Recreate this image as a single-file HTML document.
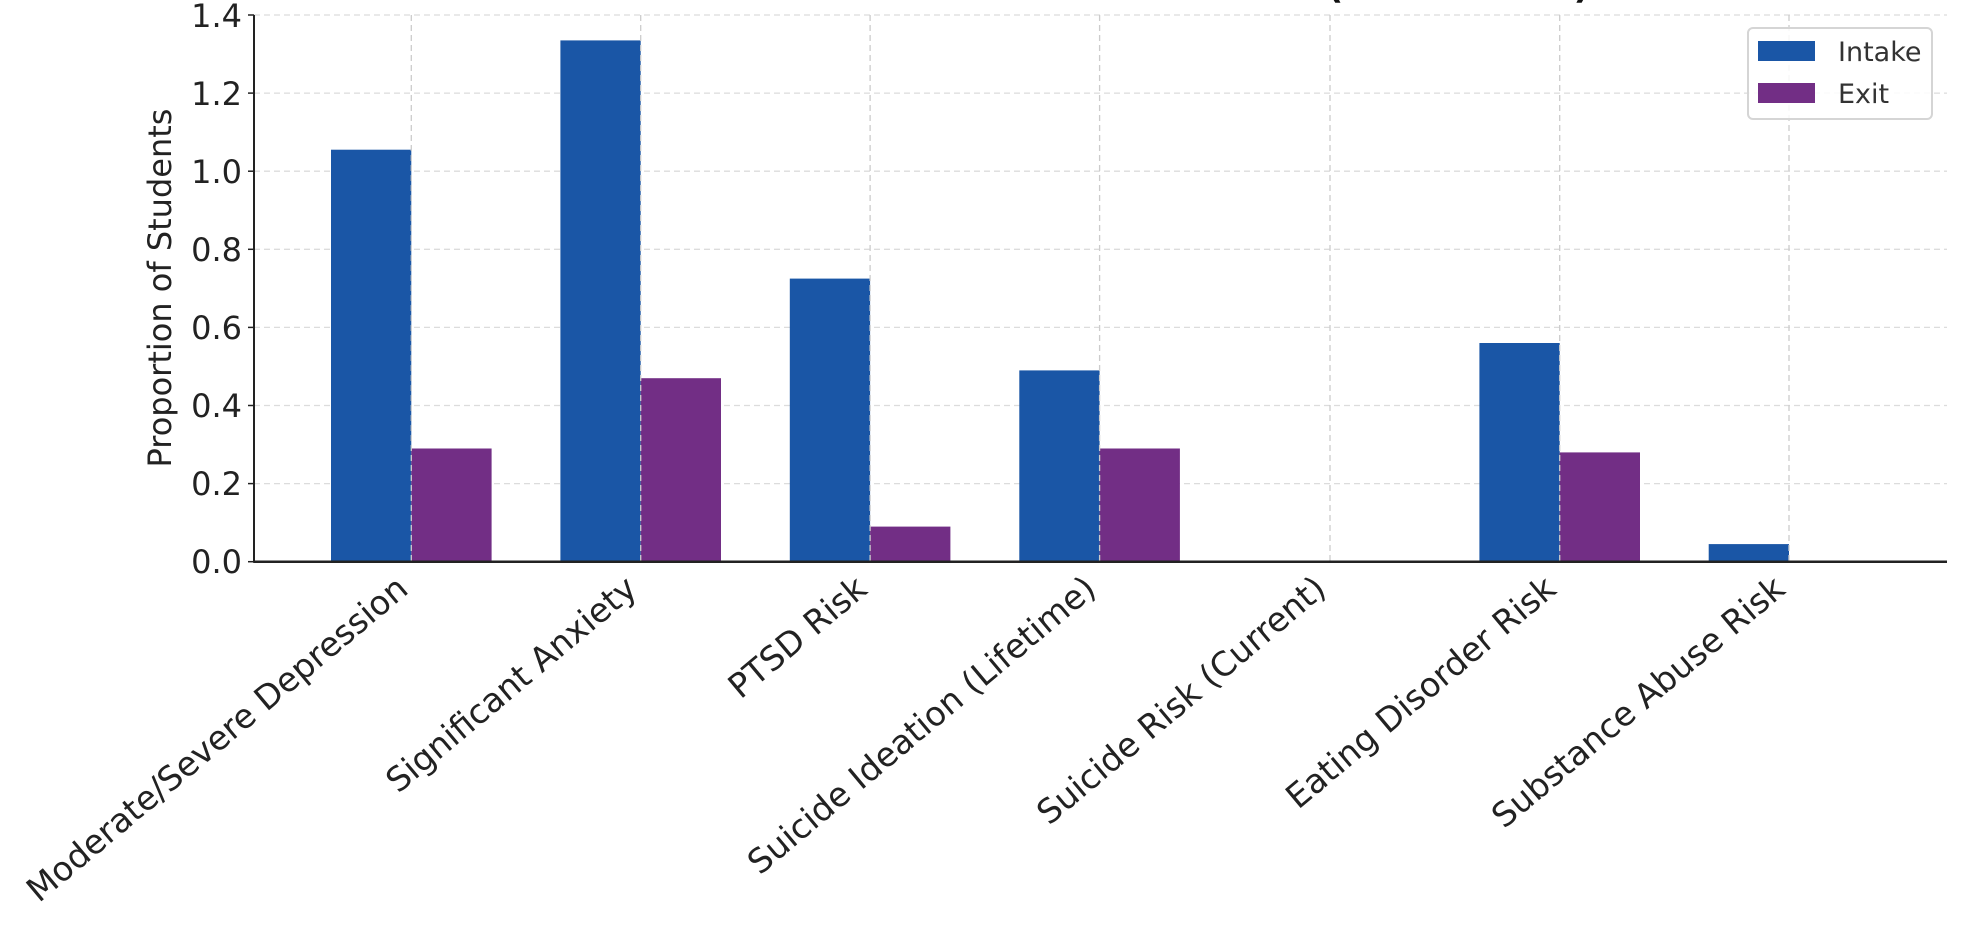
<!DOCTYPE html>
<html><head><meta charset="utf-8"><style>
html,body{margin:0;padding:0;background:#fff;}
svg{display:block;font-family:"DejaVu Sans","Liberation Sans",sans-serif;}
</style></head><body>
<svg width="1966" height="927" viewBox="0 0 1966 927" xmlns="http://www.w3.org/2000/svg">
<rect width="1966" height="927" fill="#fff"/>
<text x="1590" y="-2" font-size="36" font-weight="bold" text-anchor="end" fill="#111">Mental Health Indicators at Intake vs Exit (Normalized)</text>
<g stroke="#dcdcdc" stroke-width="1.3" stroke-dasharray="6,4">
<line x1="254" y1="483.6" x2="1947" y2="483.6"/>
<line x1="254" y1="405.5" x2="1947" y2="405.5"/>
<line x1="254" y1="327.4" x2="1947" y2="327.4"/>
<line x1="254" y1="249.3" x2="1947" y2="249.3"/>
<line x1="254" y1="171.2" x2="1947" y2="171.2"/>
<line x1="254" y1="93.1" x2="1947" y2="93.1"/>
<line x1="254" y1="15" x2="1947" y2="15"/>
</g>
<g>
<rect x="331" y="149.7" width="80.3" height="412" fill="#1a56a6"/>
<rect x="411.3" y="448.5" width="80.3" height="113.2" fill="#722e85"/>
<rect x="560.4" y="40.4" width="80.3" height="521.3" fill="#1a56a6"/>
<rect x="640.7" y="378.2" width="80.3" height="183.5" fill="#722e85"/>
<rect x="789.8" y="278.6" width="80.3" height="283.1" fill="#1a56a6"/>
<rect x="870.1" y="526.6" width="80.3" height="35.1" fill="#722e85"/>
<rect x="1019.3" y="370.4" width="80.3" height="191.3" fill="#1a56a6"/>
<rect x="1099.6" y="448.5" width="80.3" height="113.2" fill="#722e85"/>
<rect x="1479.4" y="343" width="80.3" height="218.7" fill="#1a56a6"/>
<rect x="1559.7" y="452.4" width="80.3" height="109.3" fill="#722e85"/>
<rect x="1708.7" y="544.1" width="80.3" height="17.6" fill="#1a56a6"/>
</g>
<g stroke="#cccccc" stroke-width="1.3" stroke-dasharray="6,4">
<line x1="411.3" y1="15" x2="411.3" y2="561.7"/>
<line x1="640.7" y1="15" x2="640.7" y2="561.7"/>
<line x1="870.1" y1="15" x2="870.1" y2="561.7"/>
<line x1="1099.6" y1="15" x2="1099.6" y2="561.7"/>
<line x1="1330" y1="15" x2="1330" y2="561.7"/>
<line x1="1559.7" y1="15" x2="1559.7" y2="561.7"/>
<line x1="1789" y1="15" x2="1789" y2="561.7"/>
</g>
<line x1="254" y1="561.7" x2="1947" y2="561.7" stroke="#222" stroke-width="2.5"/>
<line x1="254" y1="15" x2="254" y2="562.9" stroke="#222" stroke-width="2"/>
<g stroke="#222" stroke-width="1.5">
<line x1="248" y1="561.7" x2="254" y2="561.7"/><line x1="248" y1="483.6" x2="254" y2="483.6"/>
<line x1="248" y1="405.5" x2="254" y2="405.5"/><line x1="248" y1="327.4" x2="254" y2="327.4"/>
<line x1="248" y1="249.3" x2="254" y2="249.3"/><line x1="248" y1="171.2" x2="254" y2="171.2"/>
<line x1="248" y1="93.1" x2="254" y2="93.1"/><line x1="248" y1="15" x2="254" y2="15"/>
</g>
<g font-size="32" fill="#222" text-anchor="end">
<text x="242" y="573">0.0</text><text x="242" y="495">0.2</text><text x="242" y="417">0.4</text>
<text x="242" y="339">0.6</text><text x="242" y="261">0.8</text><text x="242" y="183">1.0</text>
<text x="242" y="105">1.2</text><text x="242" y="27">1.4</text>
</g>
<text transform="translate(171,288) rotate(-90)" font-size="32" fill="#222" text-anchor="middle">Proportion of Students</text>
<g font-size="33.5" fill="#222" text-anchor="end">
<text transform="translate(410,592) rotate(-40)">Moderate/Severe Depression</text>
<text transform="translate(639,592) rotate(-40)">Significant Anxiety</text>
<text transform="translate(869,592) rotate(-40)">PTSD Risk</text>
<text transform="translate(1098,592) rotate(-40)">Suicide Ideation (Lifetime)</text>
<text transform="translate(1328,592) rotate(-40)">Suicide Risk (Current)</text>
<text transform="translate(1558,592) rotate(-40)">Eating Disorder Risk</text>
<text transform="translate(1787,592) rotate(-40)">Substance Abuse Risk</text>
</g>
<rect x="1748" y="28" width="184" height="91" rx="5" fill="#fff" fill-opacity="0.85" stroke="#d5d5d5" stroke-width="2"/>
<rect x="1758" y="41" width="57" height="20" fill="#1a56a6"/>
<rect x="1758" y="83" width="57" height="20" fill="#722e85"/>
<text x="1838" y="61" font-size="27" fill="#333">Intake</text>
<text x="1838" y="103" font-size="27" fill="#333">Exit</text>
</svg>
</body></html>
